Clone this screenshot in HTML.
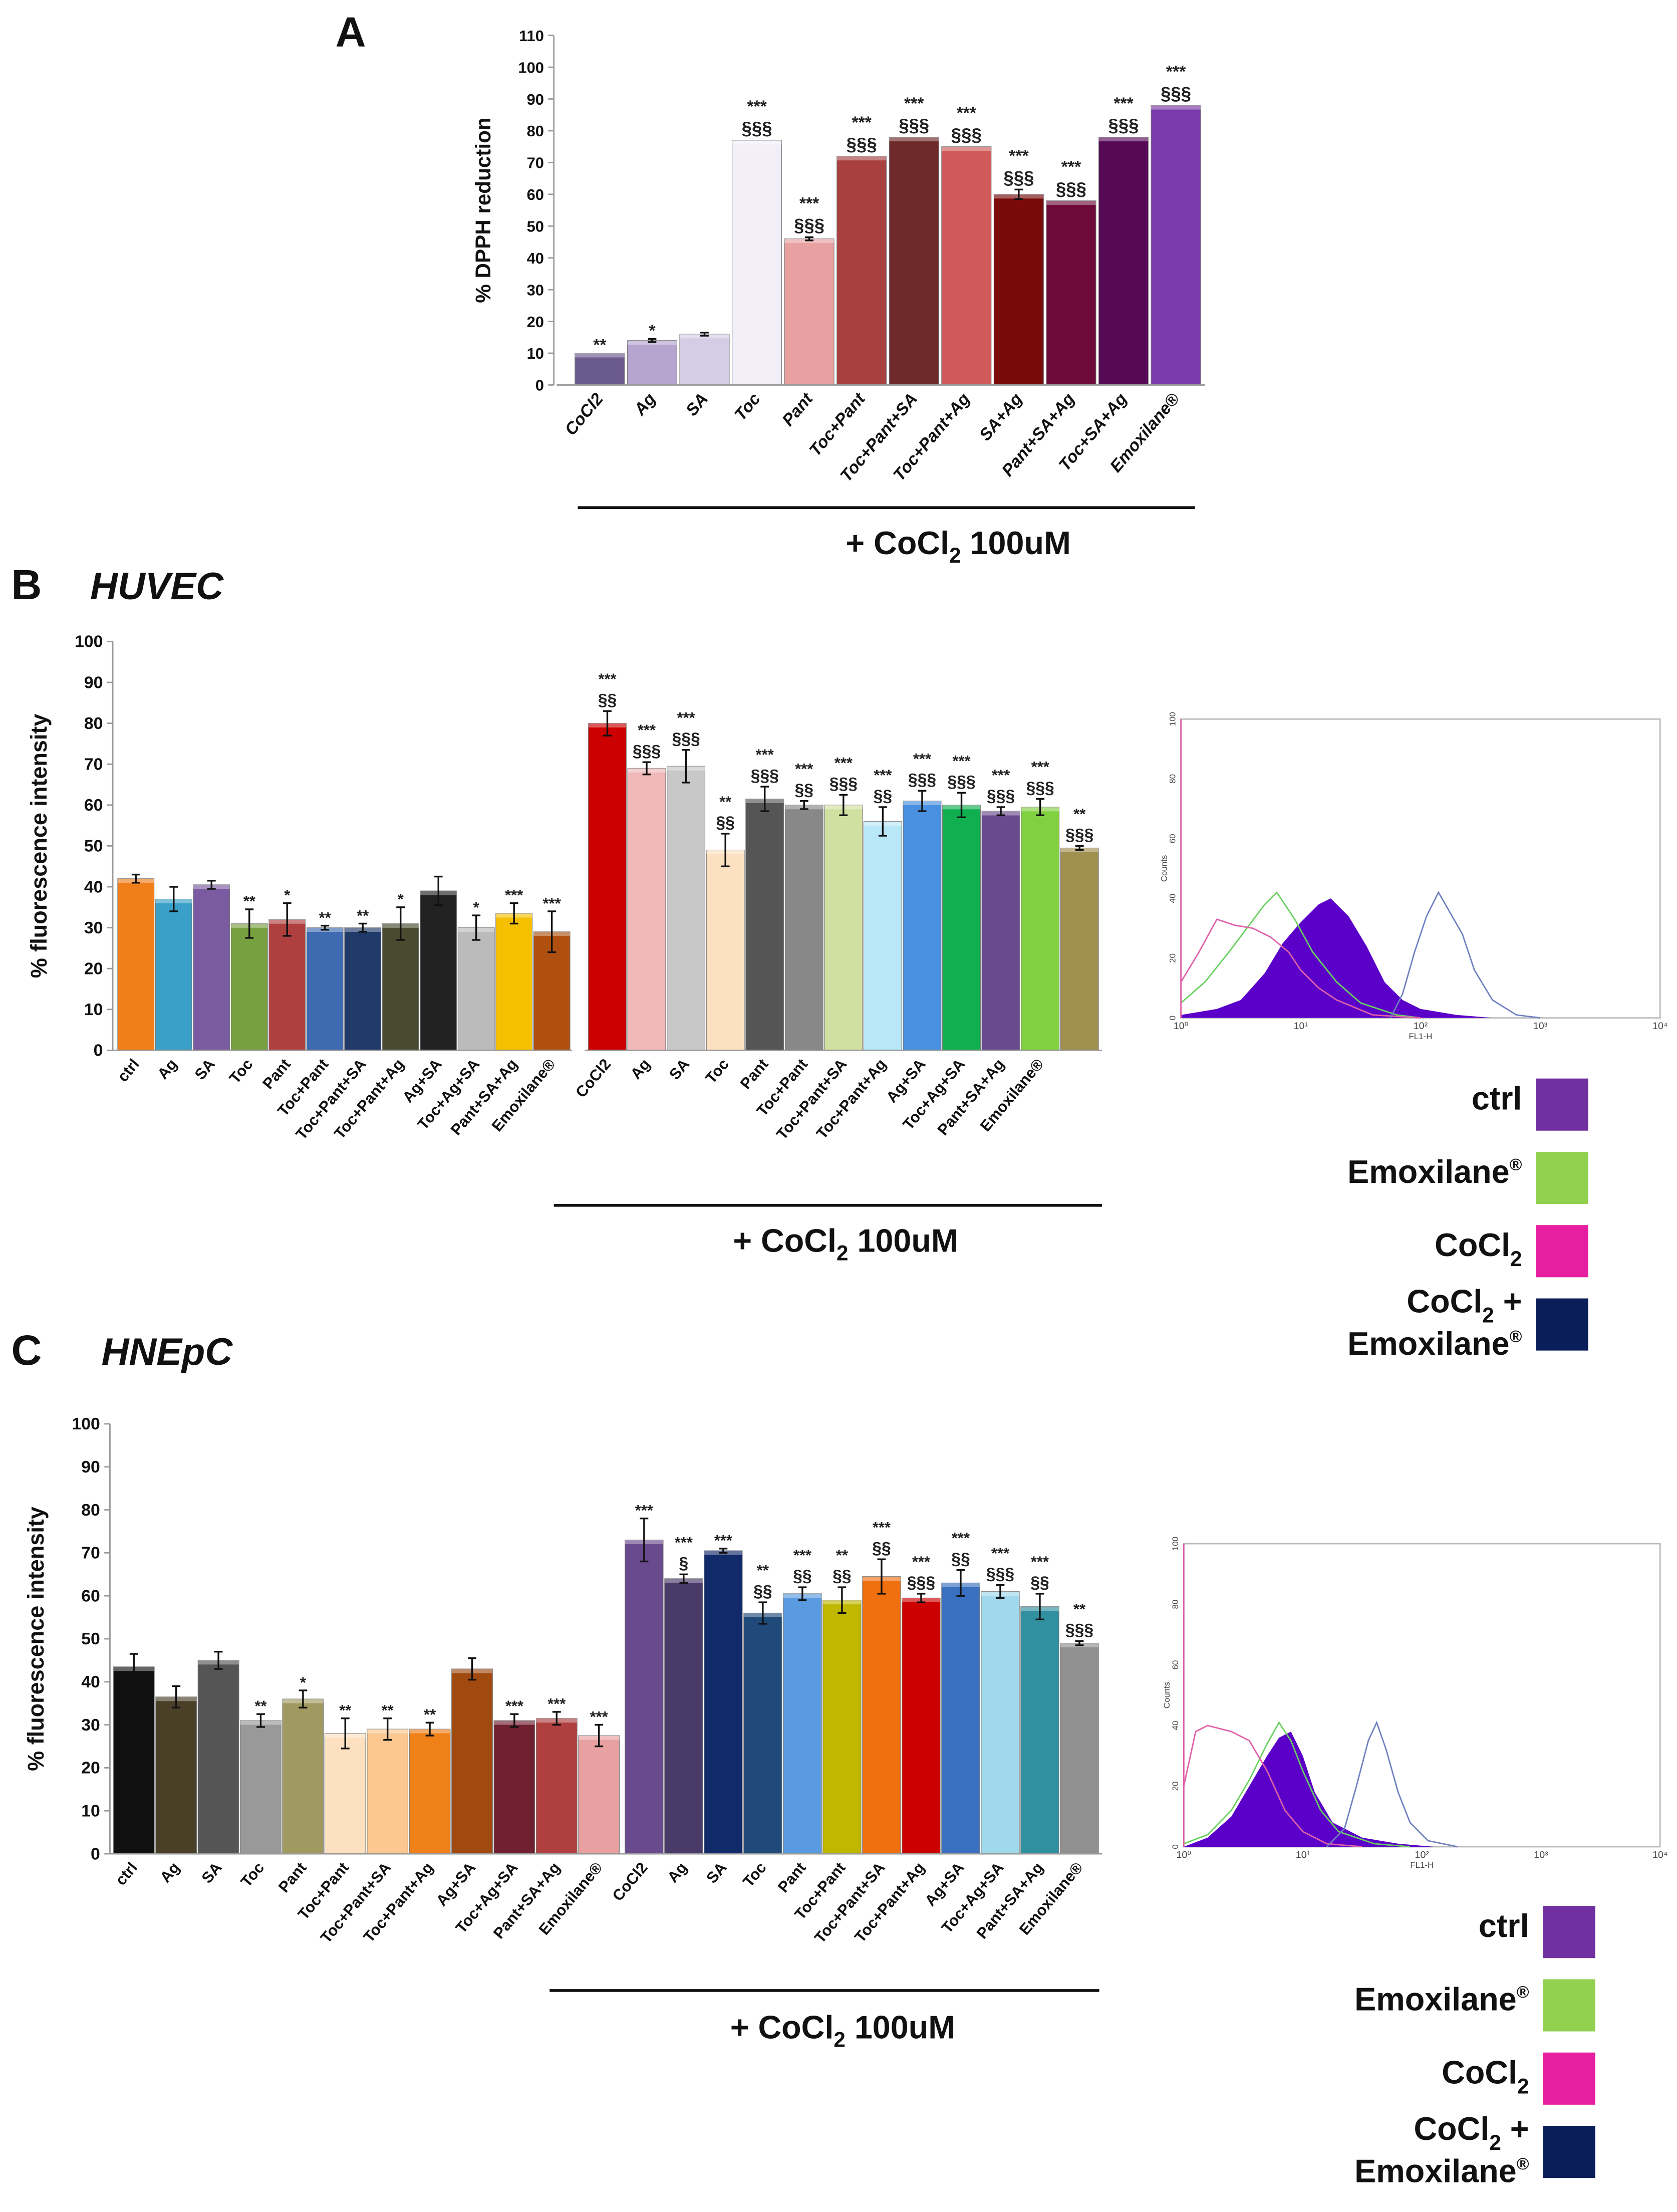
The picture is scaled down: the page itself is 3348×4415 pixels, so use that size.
<!DOCTYPE html>
<html><head><meta charset="utf-8"><style>
html,body{margin:0;padding:0;background:#fff}
svg{display:block}
text{font-family:"Liberation Sans",sans-serif}
</style></head><body>
<svg id="fig" width="3348" height="4415" viewBox="0 0 1190 1569" xmlns="http://www.w3.org/2000/svg">
<rect width="1190" height="1569" fill="#fff"/>
<g id="root"></g>
</svg>
<script>
// ===== Panel A data =====
const aCats=["CoCl2","Ag","SA","Toc","Pant","Toc+Pant","Toc+Pant+SA","Toc+Pant+Ag","SA+Ag","Pant+SA+Ag","Toc+SA+Ag","Emoxilane®"];
const aVals=[10,14,16,77,46,72,78,75,60,58,78,88];
const aErr=[0,0.5,0.5,0,0.5,0,0,0,1.5,0,0,0];
const aSig1=["**","*","","***","***","***","***","***","***","***","***","***"];
const aSig2=["","","","§§§","§§§","§§§","§§§","§§§","§§§","§§§","§§§","§§§"];
const aTicks=[0,10,20,30,40,50,60,70,80,90,100,110];
// ===== Panel B data =====
const bLCats=["ctrl","Ag","SA","Toc","Pant","Toc+Pant","Toc+Pant+SA","Toc+Pant+Ag","Ag+SA","Toc+Ag+SA","Pant+SA+Ag","Emoxilane®"];
const bLVals=[42,37,40.5,31,32,30,30,31,39,30,33.5,29];
const bLErr=[1,3,1,3.5,4,0.5,1,4,3.5,3,2.5,5];
const bLSig=["","","","**","*","**","**","*","","*","***","***"];
const bRCats=["CoCl2","Ag","SA","Toc","Pant","Toc+Pant","Toc+Pant+SA","Toc+Pant+Ag","Ag+SA","Toc+Ag+SA","Pant+SA+Ag","Emoxilane®",""];
const bRVals=[80,69,69.5,49,61.5,60,60,56,61,60,58.5,59.5,49.5];
const bRErr=[3,1.5,4,4,3,1,2.5,3.5,2.5,3,1,2,0.5];
const bRSig1=["***","***","***","**","***","***","***","***","***","***","***","***","**"];
const bRSig2=["§§","§§§","§§§","§§","§§§","§§","§§§","§§","§§§","§§§","§§§","§§§","§§§"];
const pctTicks=[0,10,20,30,40,50,60,70,80,90,100];
// ===== Panel C data =====
const cLCats=bLCats;
const cLVals=[43.5,36.5,45,31,36,28,29,29,43,31,31.5,27.5];
const cLErr=[3,2.5,2,1.5,2,3.5,2.5,1.5,2.5,1.5,1.5,2.5];
const cLSig=["","","","**","*","**","**","**","","***","***","***"];
const cRCats=["CoCl2","Ag","SA","Toc","Pant","Toc+Pant","Toc+Pant+SA","Toc+Pant+Ag","Ag+SA","Toc+Ag+SA","Pant+SA+Ag","Emoxilane®"];
const cRVals=[73,64,70.5,56,60.5,59,64.5,59.5,63,61,57.5,49];
const cRErr=[5,1,0.5,2.5,1.5,3,4,1,3,1.5,3,0.5];
const cRSig1=["***","***","***","**","***","**","***","***","***","***","***","**"];
const cRSig2=["","§","","§§","§§","§§","§§","§§§","§§","§§§","§§","§§§"];
// Flow histograms [log decade, count]
const hB_ctrl=[[0,1],[0.3,3],[0.5,6],[0.7,15],[0.85,25],[1.0,32],[1.15,38],[1.25,40],[1.4,34],[1.55,24],[1.7,12],[1.85,6],[2.0,3],[2.3,1],[2.6,0]];
const hB_emox=[[0,5],[0.2,12],[0.4,22],[0.55,30],[0.7,38],[0.8,42],[0.95,33],[1.1,22],[1.3,12],[1.5,5],[1.8,1],[2.0,0]];
const hB_cocl=[[0,12],[0.15,22],[0.3,33],[0.45,31],[0.6,30],[0.75,27],[0.9,22],[1.0,16],[1.15,10],[1.3,6],[1.6,1],[2,0]];
const hB_both=[[1.75,0],[1.85,8],[1.95,22],[2.05,34],[2.15,42],[2.25,35],[2.35,28],[2.45,16],[2.6,6],[2.8,1],[3.0,0]];
const hC_ctrl=[[0,0],[0.2,3],[0.4,10],[0.55,20],[0.7,30],[0.8,36],[0.9,38],[1.0,30],[1.1,18],[1.25,8],[1.5,3],[1.8,1],[2.1,0]];
const hC_emox=[[0,1],[0.2,4],[0.4,12],[0.55,22],[0.7,34],[0.8,41],[0.9,35],[1.0,25],[1.15,12],[1.3,5],[1.6,1],[1.9,0]];
const hC_cocl=[[0,20],[0.1,38],[0.2,40],[0.4,38],[0.55,35],[0.7,25],[0.85,12],[1.0,5],[1.2,1],[1.5,0]];
const hC_both=[[1.2,0],[1.35,6],[1.45,20],[1.55,35],[1.62,41],[1.7,32],[1.8,18],[1.9,8],[2.05,2],[2.3,0]];

const NS="http://www.w3.org/2000/svg";
const root=document.getElementById('root');
function mk(tag,attrs,parent,txt){const e=document.createElementNS(NS,tag);for(const k in attrs)e.setAttribute(k,attrs[k]);if(txt!==undefined)e.textContent=txt;(parent||root).appendChild(e);return e;}

function barGroup(g,cats,vals,errs,sig1,sig2,colors,x0,x1,y0,yTop,maxV,gap,fs,nm){
  const n=cats.length,w=(x1-x0)/n;
  const yS=v=>y0-(v/maxV)*(y0-yTop);
  cats.forEach((c,i)=>{
    const bx=x0+i*w+gap/2,bw=w-gap,by=yS(vals[i]);
    const r=mk('rect',{x:bx,y:by,width:bw,height:y0-by,fill:colors[i],stroke:'#777','stroke-width':0.4},g);
    
    
    mk('rect',{x:bx,y:by,width:bw,height:3,fill:'#fff','fill-opacity':0.35},g);
    const cx=bx+bw/2;
    if(errs[i]>0){const e1=yS(vals[i]+errs[i]),e2=yS(vals[i]-errs[i]);
      const el=mk('path',{d:`M${cx},${e1}V${e2}M${cx-3},${e1}H${cx+3}M${cx-3},${e2}H${cx+3}`,stroke:'#111','stroke-width':1.2,fill:'none'},g);
      
      }
    const topE=yS(vals[i]+errs[i]);
    let ty=topE-4;
    if(sig2&&sig2[i]){const t=mk('text',{x:cx,y:ty,'text-anchor':'middle','font-size':fs+1,'font-weight':'bold',fill:'#222'},g,sig2[i]);
      
      ty-=fs+4;}
    if(sig1[i]){const t=mk('text',{x:cx,y:ty+(sig2&&sig2[i]?0:2),'text-anchor':'middle','font-size':fs,'font-weight':'bold',fill:'#222'},g,sig1[i]);
      
      }
    if(c){const t=mk('text',{x:cx+3,y:y0+10,'text-anchor':'end','font-size':fs,'font-weight':'bold','font-style':nm==='a'?'italic':'normal',transform:`rotate(-50 ${cx+3} ${y0+10})`,fill:'#111'},g,c);
      
      }
  });
  return yS;
}
function yAxis(g,x,y0,yTop,ticks,maxV,fs,title,tx){
  mk('line',{x1:x,y1:y0,x2:x,y2:yTop,stroke:'#999','stroke-width':1},g);
  ticks.forEach(v=>{const y=y0-(v/maxV)*(y0-yTop);
    mk('line',{x1:x-4,y1:y,x2:x,y2:y,stroke:'#999'},g);
    const t=mk('text',{x:x-7,y:y+4,'text-anchor':'end','font-size':fs,'font-weight':'bold',fill:'#111'},g,v);
    
    });
  const t=mk('text',{x:tx,y:(y0+yTop)/2,'text-anchor':'middle','font-size':fs+4,'font-weight':'bold',transform:`rotate(-90 ${tx} ${(y0+yTop)/2})`,fill:'#111'},g,title);
  
  
}
function cocl(g,x1,x2,ly,tx,ty,nm){
  const l=mk('line',{x1:x1,y1:ly,x2:x2,y2:ly,stroke:'#111','stroke-width':2},g);
  
  
  const t=mk('text',{x:tx,y:ty,'text-anchor':'middle','font-size':23,'font-weight':'bold',fill:'#111'},g);
  
  
  t.innerHTML='+ CoCl<tspan font-size="15" dy="6">2</tspan><tspan dy="-6"> 100uM</tspan>';
}
function flow(g,bx,by,bw,bh,ctrl,emox,coc,both,nm){
  const fr=mk('rect',{x:bx,y:by,width:bw,height:bh,fill:'#fff',stroke:'#bbb','stroke-width':1},g);
  
  
  const X=d=>bx+d/4*bw,Y=c=>by+bh-c/100*bh;
  const pts=a=>a.map(p=>X(p[0])+','+Y(p[1])).join(' ');
  const f=mk('polygon',{points:X(ctrl[0][0])+','+Y(0)+' '+pts(ctrl)+' '+X(ctrl[ctrl.length-1][0])+','+Y(0),fill:'#5a00c8'},g);
  
  
  [[emox,'#6ad060','emox'],[coc,'#e060a8','cocl2'],[both,'#7080c0','cocl2-emox']].forEach(s=>{
    const p=mk('polyline',{points:pts(s[0]),fill:'none',stroke:s[1],'stroke-width':1},g);
    
    });
  mk('line',{x1:bx,y1:by,x2:bx,y2:by+bh,stroke:'#e060a8','stroke-width':1},g);
  [0,20,40,60,80,100].forEach(c=>mk('text',{x:bx-4,y:Y(c),'font-size':6,'text-anchor':'middle',transform:`rotate(-90 ${bx-4} ${Y(c)})`,fill:'#444'},g,c));
  ['10⁰','10¹','10²','10³','10⁴'].forEach((s,i)=>mk('text',{x:X(i),y:by+bh+8,'font-size':7,'text-anchor':'middle',fill:'#444'},g,s));
  mk('text',{x:X(2),y:by+bh+15,'font-size':6,'text-anchor':'middle',fill:'#444'},g,'FL1-H');
  mk('text',{x:bx-10,y:by+bh/2,'font-size':6,'text-anchor':'middle',transform:`rotate(-90 ${bx-10} ${by+bh/2})`,fill:'#444'},g,'Counts');
}
function legend(g,x,y,step,nm){
  const items=[['ctrl','#7030a0'],['Emoxilane®','#92d050'],['CoCl2','#e61ea0'],['CoCl2 +','#0a1e5a']];
  items.forEach((it,i)=>{
    const yy=y+i*step;
    const r=mk('rect',{x:x,y:yy,width:37,height:37,fill:it[1]},g);
    
    
    const t=mk('text',{x:x-10,y:yy+22,'text-anchor':'end','font-size':23,'font-weight':'bold',fill:'#111'},g);
    
    
    if(i===0)t.textContent='ctrl';
    if(i===1)t.innerHTML='Emoxilane<tspan font-size="12" dy="-9">®</tspan>';
    if(i===2)t.innerHTML='CoCl<tspan font-size="15" dy="7">2</tspan>';
    if(i===3){t.setAttribute('y',yy+10);t.innerHTML='CoCl<tspan font-size="15" dy="7">2</tspan><tspan dy="-7"> +</tspan>';
      const t2=mk('text',{x:x-10,y:yy+40,'text-anchor':'end','font-size':23,'font-weight':'bold',fill:'#111'},g);
      
      
      t2.innerHTML='Emoxilane<tspan font-size="12" dy="-9">®</tspan>';}
  });
}
function panelLabel(x,y,l,sub,subx){
  const t=mk('text',{x:x,y:y,'font-size':30,'font-weight':'bold',fill:'#111'},root,l);
  
  
  if(sub){const s=mk('text',{x:subx,y:y,'font-size':27,'font-weight':'bold','font-style':'italic',fill:'#111'},root,sub);
    
    }
}

// Panel A
const gA=mk('g',{});
panelLabel(238,33,'A');
yAxis(gA,393,273,25,aTicks,110,11,'% DPPH reduction',348);
barGroup(gA,aCats,aVals,aErr,aSig1,aSig2,['#6b5a8e','#b5a5cf','#d5cce6','#f3eff9','#e8a0a0','#a84040','#6e2a2a','#d05a5a','#7a0a0a','#6e0a3a','#560a56','#7b3aac'],407,853,273,25,110,2,12,'a');
mk('line',{x1:395,y1:273,x2:855,y2:273,stroke:'#999'},gA);
cocl(gA,410,848,360,680,393,'a');

// Panel B
const gB=mk('g',{});
panelLabel(8,425,'B','HUVEC',64);
yAxis(gB,80,745,455,pctTicks,100,12,'% fluorescence intensity',33);
barGroup(gB,bLCats,bLVals,bLErr,bLSig,null,['#f07f1a','#3aa0c8','#7a5aa0','#77a040','#b04040','#3d6ab0','#203a6a','#4a4a30','#222','#bbb','#f5c000','#b05010'],83,405,745,455,100,1,11,'b-left');
barGroup(gB,bRCats,bRVals,bRErr,bRSig1,bRSig2,['#cc0000','#f0b8b8','#c8c8c8','#fde0c0','#555','#888','#d0e0a0','#b8e8f8','#4a90e0','#10b050','#6a4a8e','#80d040','#a09050'],417,780,745,455,100,1,11,'b-right');
mk('line',{x1:80,y1:745,x2:406,y2:745,stroke:'#999'},gB);
mk('line',{x1:415,y1:745,x2:782,y2:745,stroke:'#999'},gB);
cocl(gB,393,782,855,600,888,'b');
flow(gB,838,510,340,212,hB_ctrl,hB_emox,hB_cocl,hB_both,'b');
legend(gB,1090,765,52,'b');

// Panel C
const gC=mk('g',{});
panelLabel(8,968,'C','HNEpC',72);
yAxis(gC,78,1315,1010,pctTicks,100,12,'% fluorescence intensity',31);
barGroup(gC,cLCats,cLVals,cLErr,cLSig,null,['#111','#4a4028','#555','#999','#a09a60','#fde0c0','#fcc890','#f08018','#a04a10','#702030','#b04040','#e8a0a0'],80,440,1315,1010,100,1,11,'c-left');
barGroup(gC,cRCats,cRVals,cRErr,cRSig1,cRSig2,['#6a4a8e','#4a3a6a','#102a6a','#204a7a','#5a9ae0','#c0b800','#f07010','#cc0000','#3a70c0','#a0d8ec','#3090a0','#909090'],443,780,1315,1010,100,1,11,'c-right');
mk('line',{x1:78,y1:1315,x2:441,y2:1315,stroke:'#999'},gC);
mk('line',{x1:441,y1:1315,x2:782,y2:1315,stroke:'#999'},gC);
cocl(gC,390,780,1412,598,1446,'c');
flow(gC,840,1095,338,215,hC_ctrl,hC_emox,hC_cocl,hC_both,'c');
legend(gC,1095,1352,52,'c');
</script>
</body></html>
